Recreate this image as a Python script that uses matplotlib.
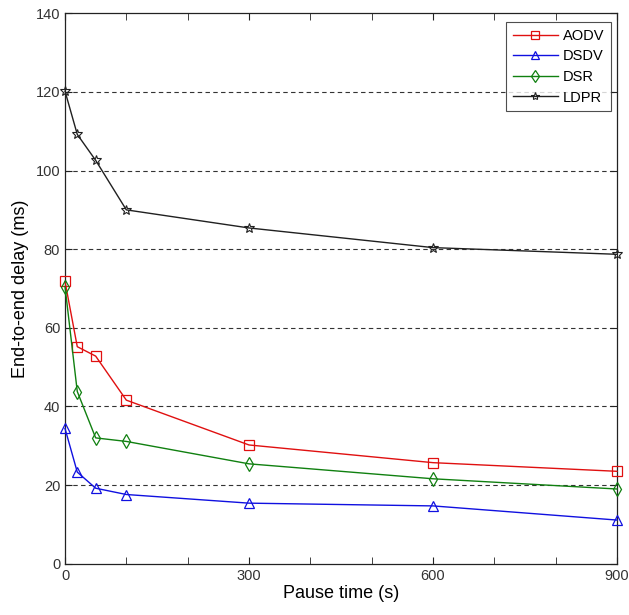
import matplotlib
matplotlib.use("Agg")
import matplotlib.pyplot as plt
from matplotlib.ticker import MultipleLocator

plt.rcParams['font.family'] = ['Liberation Sans', 'DejaVu Sans']

pause_time = [0, 20, 50, 100, 300, 600, 900]
aodv = [71.8, 55.2, 52.8, 41.6, 30.2, 25.7, 23.5]
dsdv = [34.4, 23.3, 19.2, 17.6, 15.4, 14.7, 11.1]
dsr = [70.5, 43.8, 32.0, 31.1, 25.4, 21.6, 19.0]
ldpr = [120.2, 109.2, 102.6, 90.0, 85.4, 80.4, 78.7]

x_ticks = [0, 300, 600, 900]
y_ticks = [0, 20, 40, 60, 80, 100, 120, 140]

W, H = 629, 615
fig = plt.figure(figsize=(W / 100, H / 100), dpi=100)
ax = fig.add_axes([65 / W, (H - 563.7) / H, (617 - 65) / W, (563.7 - 13.3) / H])

common = dict(markerfacecolor='none', lw=1.0, clip_on=False, zorder=3)
ax.plot(pause_time, aodv, color='#e01010', marker='s', markersize=7,
        markeredgewidth=0.9, label='AODV', **common)
ax.plot(pause_time, dsdv, color='#1010e0', marker='^', markersize=7.5,
        markeredgewidth=0.9, label='DSDV', **common)
ax.plot(pause_time, dsr, color='#108010', marker='d', markersize=7.5,
        markeredgewidth=0.9, label='DSR', **common)
ax.plot(pause_time, ldpr, color='#202020', marker='*', markersize=7,
        markeredgewidth=0.8, label='LDPR', **common)

ax.set_xlim(0, 900)
ax.set_ylim(0, 140)
ax.set_xticks(x_ticks)
ax.set_yticks(y_ticks)
ax.xaxis.set_minor_locator(MultipleLocator(100))
ax.tick_params(axis='both', which='both', direction='in', top=True, right=True,
               labelsize=10.5, colors='#222222', labelcolor='#333333')
ax.tick_params(which='major', length=5)
ax.tick_params(which='minor', length=5)

for y in y_ticks[1:-1]:
    ax.axhline(y, color='#333333', lw=0.8, linestyle=(0, (4, 3)), zorder=0)

for s in ax.spines.values():
    s.set_linewidth(0.9)
    s.set_color('#222222')

ax.set_xlabel('Pause time (s)', fontsize=13, labelpad=2)
ax.set_ylabel('End-to-end delay (ms)', fontsize=13, labelpad=5)

leg = ax.legend(loc='upper right', bbox_to_anchor=(611 / W, (H - 22.3) / H),
                bbox_transform=fig.transFigure, borderaxespad=0,
                fontsize=10.5, frameon=True, fancybox=False,
                edgecolor='#222222', handlelength=3.1, markerscale=0.85,
                handletextpad=0.35, labelspacing=0.45, borderpad=0.45)
leg.get_frame().set_linewidth(0.8)

fig.savefig('out.png', dpi=100, facecolor='white')
